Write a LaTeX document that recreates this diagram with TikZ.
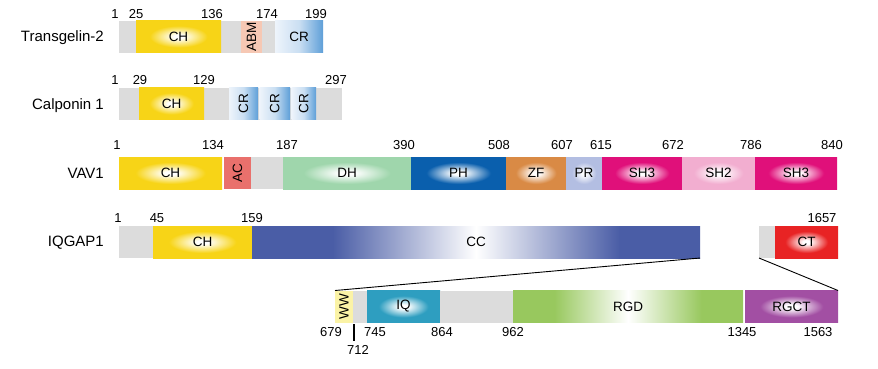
\documentclass[tikz,border=0pt]{standalone}
\usepackage{fontspec}
\setmainfont{Liberation Sans}
\definecolor{gbase}{HTML}{DCDCDC}
\definecolor{chY}{HTML}{F7D417}
\definecolor{abm}{HTML}{F6C8B4}
\definecolor{crL}{HTML}{EEF4FB}
\definecolor{crB}{HTML}{5E9FD8}
\definecolor{acR}{HTML}{E9706C}
\definecolor{dhG}{HTML}{9FD6AC}
\definecolor{phB}{HTML}{0A5FAD}
\definecolor{zfO}{HTML}{D98A45}
\definecolor{prL}{HTML}{B3BEE2}
\definecolor{shM}{HTML}{E0107A}
\definecolor{shP}{HTML}{F2AED0}
\definecolor{ccB}{HTML}{4A5DA6}
\definecolor{ctR}{HTML}{E82324}
\definecolor{wwY}{HTML}{FBF3A6}
\definecolor{iqT}{HTML}{2E9EC0}
\definecolor{rgdG}{HTML}{98C85E}
\definecolor{rgctP}{HTML}{A24FA3}
\makeatletter
\pgfdeclareradialshading[tikz@radial@inner,tikz@radial@outer]{spotsh}{\pgfpoint{0bp}{0bp}}{color(0bp)=(tikz@radial@inner); color(3bp)=(tikz@radial@inner); color(17bp)=(tikz@radial@outer); color(50bp)=(tikz@radial@outer)}
\pgfdeclareverticalshading[tikz@axis@top,tikz@axis@middle,tikz@axis@bottom]{midsh}{100bp}{color(0bp)=(tikz@axis@bottom); color(34bp)=(tikz@axis@bottom); color(50bp)=(tikz@axis@middle); color(66bp)=(tikz@axis@top); color(100bp)=(tikz@axis@top)}
\makeatother
\newcommand\pdom[6]{\node[seg,#5,minimum width={#3pt-#2pt}] (#1) at ({(#2+#3)/2},#4) {#6};}
\tikzset{
  seg/.style={inner sep=0pt, outer sep=0pt, minimum height=32pt, draw=none, font=\fontsize{13.5}{15}\selectfont, text=black},
  flat/.style={fill=#1},
  spotfill/.style={inner color=white, outer color=#1, shading=spotsh},
  midfill/.style={left color=#1, right color=#1, middle color=white, shading=midsh},
  crfill/.style={left color=crL, right color=crB, middle color=crL!75!crB},
  num/.style={anchor=base, inner sep=0pt, font=\fontsize{13}{15}\selectfont},
  pname/.style={anchor=base east, inner sep=0pt, font=\fontsize{15}{17}\selectfont},
  conn/.style={draw=black, line width=0.9pt},
}
\begin{document}
\begin{tikzpicture}[x=1pt,y=-1pt]
\useasboundingbox[fill=white] (0,0) rectangle (878,368);
% ---------- Transgelin-2
\node[pname] (tg-name) at (104,41) {Transgelin-2};
\pdom{tg-base}{119}{323}{36.5}{flat=gbase}{}
\pdom{tg-ch}{136}{221}{36.5}{spotfill=chY}{CH}
\pdom{tg-abm}{241}{262}{36.5}{flat=abm}{\rotatebox{90}{ABM}}
\pdom{tg-cr}{275}{323}{36.5}{crfill}{CR}
\node[num] (tg-l1) at (115,18) {1};
\node[num] (tg-l25) at (136,18) {25};
\node[num] (tg-l136) at (212,18) {136};
\node[num] (tg-l174) at (267,18) {174};
\node[num] (tg-l199) at (316,18) {199};
% ---------- Calponin 1
\node[pname] (cp-name) at (104,109) {Calponin 1};
\pdom{cp-base}{119}{342}{103.5}{flat=gbase}{}
\pdom{cp-ch}{139}{204}{103.5}{spotfill=chY}{CH}
\pdom{cp-cr1}{229}{258}{103.5}{crfill}{\rotatebox{90}{CR}}
\pdom{cp-cr2}{259.5}{290}{103.5}{crfill}{\rotatebox{90}{CR}}
\pdom{cp-cr3}{291.5}{316}{103.5}{crfill}{\rotatebox{90}{CR}}
\node[num] (cp-l1) at (115,84) {1};
\node[num] (cp-l29) at (140,84) {29};
\node[num] (cp-l129) at (204,84) {129};
\node[num] (cp-l297) at (336,84) {297};
% ---------- VAV1
\node[pname] (vav-name) at (104,178.5) {VAV1};
\pdom{vav-gray}{251}{283}{173}{flat=gbase}{}
\pdom{vav-ch}{119}{222}{173}{spotfill=chY}{CH}
\pdom{vav-ac}{224}{251}{173}{flat=acR}{\rotatebox{90}{AC}}
\pdom{vav-dh}{283}{411}{173}{spotfill=dhG}{DH}
\pdom{vav-ph}{411}{506}{173}{spotfill=phB}{PH}
\pdom{vav-zf}{506}{566}{173}{spotfill=zfO}{ZF}
\pdom{vav-pr}{566}{602}{173}{spotfill=prL}{PR}
\pdom{vav-sh3a}{602}{682}{173}{spotfill=shM}{SH3}
\pdom{vav-sh2}{682}{755}{173}{spotfill=shP}{SH2}
\pdom{vav-sh3b}{755}{837}{173}{spotfill=shM}{SH3}
\node[num] (vav-l1) at (117,149.5) {1};
\node[num] (vav-l134) at (213,149.5) {134};
\node[num] (vav-l187) at (287,149.5) {187};
\node[num] (vav-l390) at (404,149.5) {390};
\node[num] (vav-l508) at (499,149.5) {508};
\node[num] (vav-l607) at (562,149.5) {607};
\node[num] (vav-l615) at (601,149.5) {615};
\node[num] (vav-l672) at (673,149.5) {672};
\node[num] (vav-l786) at (751,149.5) {786};
\node[num] (vav-l840) at (832,149.5) {840};
% ---------- IQGAP1
\node[pname] (iq-name) at (104,246) {IQGAP1};
\pdom{iq-base}{119}{153}{242}{flat=gbase}{}
\pdom{iq-ch}{153}{252}{242}{spotfill=chY}{CH}
\pdom{iq-cc}{252}{700}{242}{midfill=ccB}{CC}
\pdom{iq-gray2}{759}{775}{242}{flat=gbase}{}
\pdom{iq-ct}{775}{838}{242}{spotfill=ctR}{CT}
\node[num] (iq-l1) at (118,222.5) {1};
\node[num] (iq-l45) at (157,222.5) {45};
\node[num] (iq-l159) at (252,222.5) {159};
\node[num] (iq-l1657) at (822,222.5) {1657};
% ---------- expanded IQGAP1
\pdom{ex-ww}{335}{353}{306.5}{flat=wwY}{\rotatebox{90}{WW}}
\pdom{ex-g1}{353}{367}{306.5}{flat=gbase}{}
\pdom{ex-iq}{367}{440}{306.5}{spotfill=iqT}{IQ}
\pdom{ex-g2}{440}{513}{306.5}{flat=gbase}{}
\pdom{ex-rgd}{513}{743}{306.5}{midfill=rgdG}{RGD}
\pdom{ex-rgct}{745}{838}{306.5}{spotfill=rgctP}{RGCT}
\node[num] (ex-l679) at (331,336.5) {679};
\node[num] (ex-l712) at (358,354.5) {712};
\node[num] (ex-l745) at (375,336.5) {745};
\node[num] (ex-l864) at (442,336.5) {864};
\node[num] (ex-l962) at (513,336.5) {962};
\node[num] (ex-l1345) at (742,336.5) {1345};
\node[num] (ex-l1563) at (818,336.5) {1563};
\coordinate (tk1) at (354,324);
\coordinate (tk2) at (354,341);
\draw[conn, line width=1.3pt] (tk1) -- (tk2);
% ---------- zoom connectors
\draw[conn] (iq-cc.south east) -- (ex-ww.north west);
\draw[conn] (iq-gray2.south west) -- (ex-rgct.north east);
\end{tikzpicture}
\end{document}
